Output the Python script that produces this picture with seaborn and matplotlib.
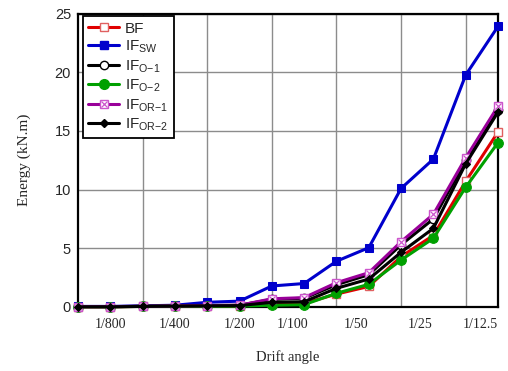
import matplotlib
matplotlib.use("Agg")
import matplotlib.pyplot as plt
import seaborn as sns
import numpy as np
from matplotlib.lines import Line2D

sns.set_style("white")
plt.rcParams['font.family'] = ['Liberation Sans', 'DejaVu Sans']
plt.rcParams['mathtext.fontset'] = 'custom'
plt.rcParams['mathtext.rm'] = 'Liberation Sans'
plt.rcParams['mathtext.it'] = 'Liberation Sans:italic'

# ---- data ----
steps = list(range(14))
bf   = [0.02, 0.02, 0.05, 0.08, 0.08, 0.1, 0.25, 0.3, 1.1, 1.75, 4.3, 6.1, 10.7, 14.9]
ifsw = [0.05, 0.05, 0.1, 0.15, 0.4, 0.5, 1.79, 2.0, 3.9, 5.05, 10.1, 12.6, 19.76, 23.9]
ifo1 = [0.03, 0.03, 0.06, 0.1, 0.12, 0.15, 0.65, 0.75, 1.9, 2.75, 5.3, 7.5, 12.5, 16.8]
ifo2 = [0.02, 0.02, 0.05, 0.08, 0.06, 0.08, 0.15, 0.2, 1.17, 1.93, 4.0, 5.85, 10.2, 14.0]
ifor1 = [0.03, 0.03, 0.06, 0.1, 0.12, 0.15, 0.7, 0.8, 2.07, 2.92, 5.56, 7.9, 12.7, 17.1]
ifor2 = [0.02, 0.02, 0.05, 0.08, 0.1, 0.12, 0.4, 0.45, 1.59, 2.38, 4.66, 6.7, 12.2, 16.6]
xtick_labels = ['1/800', '1/400', '1/200', '1/100', '1/50', '1/25', '1/12.5']
xtick_pos = [1.0, 3.0, 5.0, 6.65, 8.6, 10.6, 12.45]

fig = plt.figure(figsize=(5.08, 3.71), dpi=100)
ax = fig.add_axes([78/508, 1-307/371, 420/508, (307-13.5)/371])

lw = 2.2
ms = 6
sns.lineplot(x=steps, y=bf, ax=ax, color='#e00000', lw=lw, marker='s', ms=ms,
             mfc='white', mec='#e06060', mew=1.0, clip_on=False, zorder=3)
sns.lineplot(x=steps, y=ifsw, ax=ax, color='#0000cc', lw=lw, marker='s', ms=ms,
             mfc='#0000cc', mec='#0000cc', clip_on=False, zorder=3)
sns.lineplot(x=steps, y=ifo1, ax=ax, color='black', lw=lw, marker='o', ms=ms,
             mfc='white', mec='black', mew=1.0, clip_on=False, zorder=3)
sns.lineplot(x=steps, y=ifo2, ax=ax, color='#00a000', lw=lw, marker='o', ms=ms+1,
             mfc='#00a000', mec='#00a000', clip_on=False, zorder=3)
sns.lineplot(x=steps, y=ifor1, ax=ax, color='#990099', lw=lw, marker='s', ms=ms,
             mfc='white', mec='#cc55cc', mew=1.0, clip_on=False, zorder=3)
sns.lineplot(x=steps, y=ifor1, ax=ax, color='#cc55cc', lw=0, marker='x', ms=ms-1.5,
             mec='#cc55cc', mew=0.9, clip_on=False, zorder=3)
sns.lineplot(x=steps, y=ifor2, ax=ax, color='black', lw=lw, marker='D', ms=ms-1.5,
             mfc='black', mec='black', clip_on=False, zorder=3)

ax.set_xlim(0, 13)
ax.set_ylim(0, 25)
ax.set_xticks([2, 4, 6, 8, 10, 12])
ax.set_xticklabels([])
ax.set_xticks(xtick_pos, minor=True)
ax.set_xticklabels(xtick_labels, minor=True, family=['Liberation Serif'], fontsize=10)
ax.tick_params(axis='x', which='both', length=0, pad=8)
ax.set_yticks([0, 5, 10, 15, 20, 25])
ax.tick_params(axis='y', length=0, labelsize=10.5, pad=5)
ax.grid(True, which='major', color='#8c8c8c', lw=1.0)
ax.set_axisbelow(True)
for s in ax.spines.values():
    s.set_color('black')
    s.set_linewidth(1.6)

ax.set_xlabel('Drift angle', family=['Liberation Serif'], fontsize=10.5, labelpad=14)
ax.set_ylabel('Energy (kN.m)', family=['Liberation Serif'], fontsize=11, labelpad=17)

handles = [
    Line2D([], [], color='#e00000', lw=lw, marker='s', ms=ms, mfc='white', mec='#e06060'),
    Line2D([], [], color='#0000cc', lw=lw, marker='s', ms=ms, mfc='#0000cc', mec='#0000cc'),
    Line2D([], [], color='black', lw=lw, marker='o', ms=ms, mfc='white', mec='black'),
    Line2D([], [], color='#00a000', lw=lw, marker='o', ms=ms+1, mfc='#00a000', mec='#00a000'),
    (Line2D([], [], color='#990099', lw=lw, marker='s', ms=ms, mfc='white', mec='#cc55cc'),
     Line2D([], [], lw=0, marker='x', ms=ms-1.5, mec='#cc55cc', mew=0.9)),
    Line2D([], [], color='black', lw=lw, marker='D', ms=ms-1.5, mfc='black', mec='black'),
]
labels = ['BF', r'IF$_{\mathrm{SW}}$', r'IF$_{\mathrm{O{-}1}}$', r'IF$_{\mathrm{O{-}2}}$',
          r'IF$_{\mathrm{OR{-}1}}$', r'IF$_{\mathrm{OR{-}2}}$']
leg = ax.legend(handles, labels, loc='upper left', bbox_to_anchor=(0.012, 0.99),
                fontsize=11, frameon=True, fancybox=False, edgecolor='black',
                framealpha=1, handlelength=2.0, handletextpad=0.4, labelspacing=0.2,
                borderpad=0.35, borderaxespad=0)
leg.get_frame().set_linewidth(1.3)

fig.savefig('out.png', dpi=100)
